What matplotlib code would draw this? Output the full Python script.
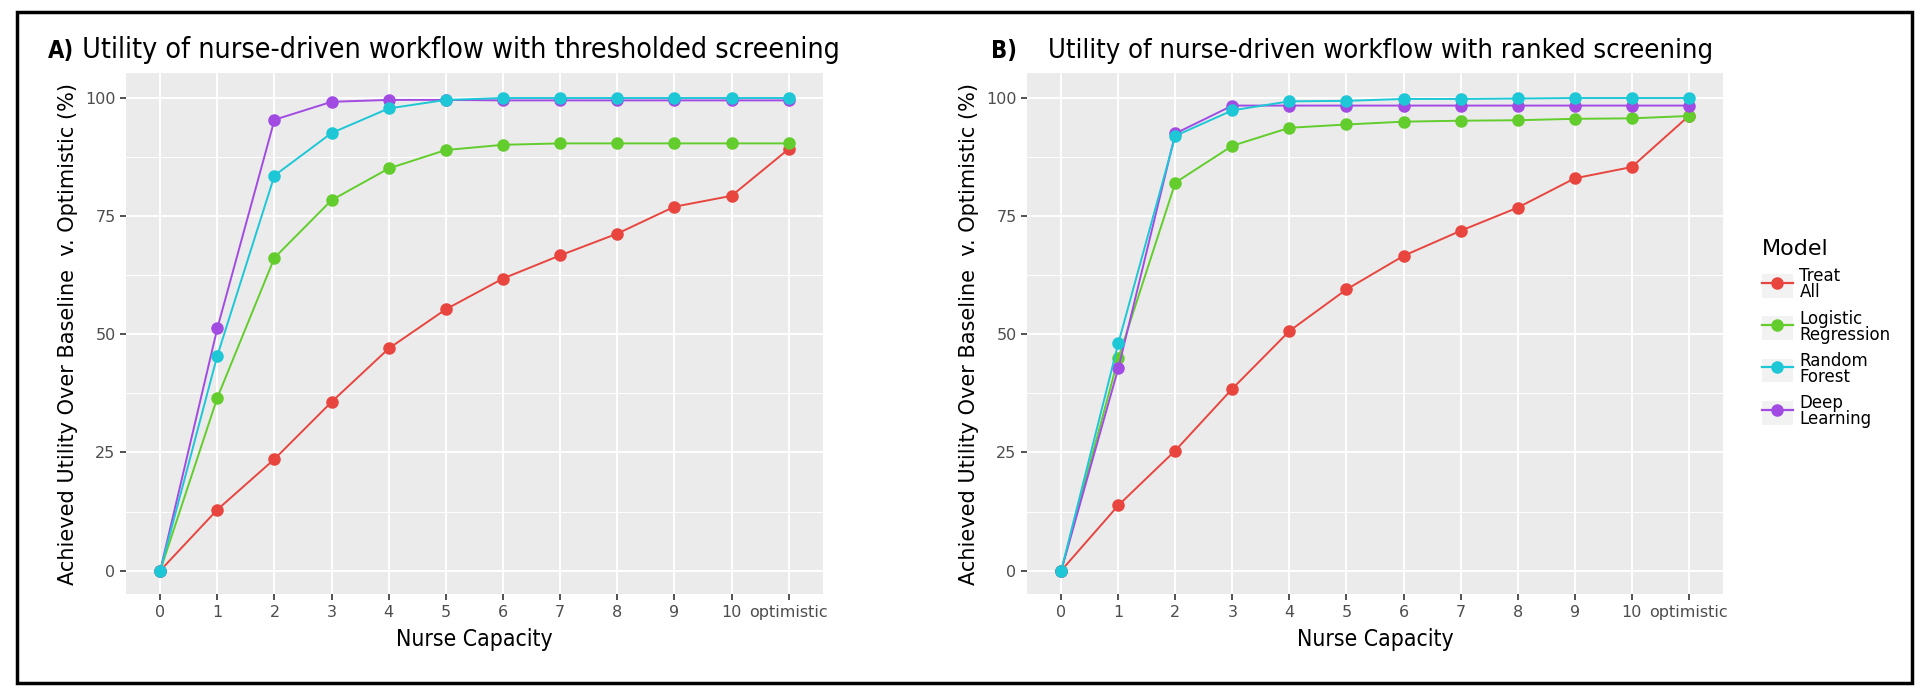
import matplotlib
matplotlib.use("Agg")
import matplotlib.pyplot as plt
from matplotlib.lines import Line2D
from matplotlib.patches import Rectangle
from matplotlib.legend_handler import HandlerLine2D

# x categories
capacity = ["0", "1", "2", "3", "4", "5", "6", "7", "8", "9", "10", "optimistic"]
models = ["Treat\nAll", "Logistic\nRegression", "Random\nForest", "Deep\nLearning"]
colors = ["#E8453F", "#62CD2C", "#1DC7D6", "#A24BE3"]

# A) thresholded screening
a_treat = [0, 12.9, 23.6, 35.7, 47.0, 55.3, 61.8, 66.7, 71.3, 77.0, 79.3, 89.2]
a_lr = [0, 36.6, 66.2, 78.4, 85.1, 89.0, 90.1, 90.4, 90.4, 90.4, 90.4, 90.4]
a_rf = [0, 45.5, 83.6, 92.6, 97.8, 99.6, 100, 100, 100, 100, 100, 100]
a_dl = [0, 51.3, 95.4, 99.2, 99.6, 99.6, 99.5, 99.5, 99.5, 99.5, 99.5, 99.5]

# B) ranked screening
b_treat = [0, 13.8, 25.4, 38.5, 50.7, 59.5, 66.6, 71.9, 76.8, 83.0, 85.4, 96.2]
b_lr = [0, 44.9, 82.1, 89.9, 93.7, 94.4, 95.0, 95.2, 95.3, 95.6, 95.7, 96.2]
b_rf = [0, 48.1, 92.0, 97.4, 99.3, 99.4, 99.8, 99.8, 99.9, 100, 100, 100]
b_dl = [0, 42.8, 92.5, 98.4, 98.4, 98.4, 98.4, 98.4, 98.4, 98.4, 98.4, 98.4]


class KeyHandler(HandlerLine2D):
    # grey key box behind the line, like ggplot
    def create_artists(self, legend, orig_handle, xdescent, ydescent, width, height, fontsize, trans):
        bg = Rectangle((-xdescent, -ydescent), width, height, facecolor="#F2F2F2",
                       edgecolor="none", transform=trans)
        arts = super().create_artists(legend, orig_handle, xdescent, ydescent, width, height, fontsize, trans)
        return [bg] + arts


fig = plt.figure(figsize=(19.2, 6.95), dpi=100)

# outer frame
fig.patches.append(Rectangle((0.0088, 0.0173), 0.987, 0.9655, transform=fig.transFigure,
                             fill=False, edgecolor="black", linewidth=2.5))

ax1 = fig.add_axes([0.0656, 0.145, 0.363, 0.75])
ax2 = fig.add_axes([0.5349, 0.145, 0.3625, 0.75])

panels = [
    (ax1, [a_treat, a_lr, a_rf, a_dl], "A)", " Utility of nurse-driven workflow with thresholded screening", 0.025, 20.5),
    (ax2, [b_treat, b_lr, b_rf, b_dl], "B)", "    Utility of nurse-driven workflow with ranked screening", 0.516, 19.6),
]

xs = list(range(len(capacity)))
draw_order = [0, 1, 3, 2]
for ax, series, tag, title, tx, tsize in panels:
    ax.set_facecolor("#EBEBEB")
    for s in ax.spines.values():
        s.set_visible(False)
    ax.set_axisbelow(True)
    for i in draw_order:
        ax.plot(xs, series[i], color=colors[i], linewidth=1.4, marker="o", markersize=8, zorder=3)
    ax.set_xlim(-0.6, 11.6)
    ax.set_ylim(-5, 105.3)
    ax.set_xticks(xs)
    ax.set_xticklabels(capacity)
    ax.set_yticks([0, 25, 50, 75, 100])
    ax.set_yticks([12.5, 37.5, 62.5, 87.5], minor=True)
    ax.grid(which="major", color="white", linewidth=1.4)
    ax.grid(which="minor", axis="y", color="white", linewidth=0.7)
    ax.tick_params(which="major", colors="#333333", labelcolor="#4D4D4D", labelsize=11.5, length=4, width=1.2)
    ax.tick_params(which="minor", length=0)
    ax.set_xlabel("Nurse Capacity", fontsize=16.5, fontstretch="condensed", labelpad=6)
    ax.set_ylabel("Achieved Utility Over Baseline  v. Optimistic (%)", fontsize=15, labelpad=5)
    t = fig.text(tx, 0.9165, tag, fontsize=17, fontweight="bold", fontstretch="condensed", va="baseline")
    fig.canvas.draw()
    bb = t.get_window_extent().transformed(fig.transFigure.inverted())
    fig.text(bb.x1, 0.9165, title, fontsize=tsize, fontstretch="condensed", va="baseline")

handles = [Line2D([], [], color=c, linewidth=1.6, marker="o", markersize=8) for c in colors]
leg = fig.legend(handles, models, title="Model", loc="center left", bbox_to_anchor=(0.9177, 0.52),
                 frameon=False, fontsize=12, title_fontsize=16, handlelength=1.85, handleheight=1.8,
                 labelspacing=0.5, handletextpad=0.4, borderpad=0, borderaxespad=0,
                 handler_map={Line2D: KeyHandler()})
leg._legend_box.align = "left"
for txt in leg.get_texts():
    txt.set_linespacing(0.85)

fig.savefig("out.png", dpi=100)
